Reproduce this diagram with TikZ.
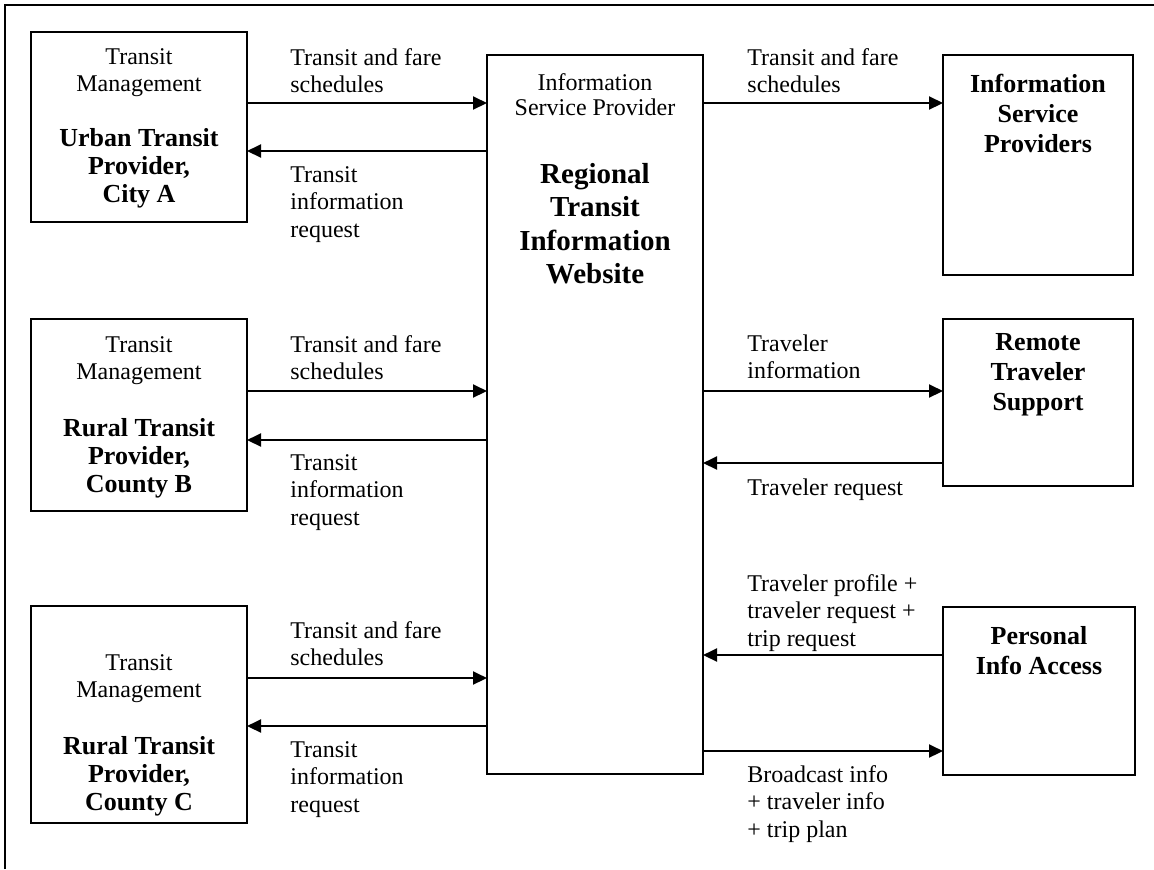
\documentclass[tikz,border=0pt]{standalone}
\usepackage{fontspec}
\setmainfont{Liberation Serif}
\usetikzlibrary{arrows.meta}
\tikzset{
  box/.style={draw, line width=1.4pt, inner sep=0pt, outer sep=0pt},
  arr/.style={line width=1pt, -{Triangle[length=7pt,width=6.5pt]}},
  lbl/.style={anchor=north west, inner sep=0pt, align=left, font=\fontsize{12}{13.8}\selectfont},
  ntxt/.style={anchor=north, inner sep=0pt, align=center, font=\fontsize{12}{13.6}\selectfont},
  btxt/.style={anchor=north, inner sep=0pt, align=center, font=\fontsize{13}{14}\selectfont\bfseries},
  rtxt/.style={anchor=north, inner sep=0pt, align=center, font=\fontsize{13}{15}\selectfont\bfseries},
  ctxt/.style={anchor=north, inner sep=0pt, align=center, font=\fontsize{14.5}{16.7}\selectfont\bfseries},
}
\begin{document}
\begin{tikzpicture}[x=0.5pt, y=-0.5pt]
\useasboundingbox (0,0) rectangle (1154,869);
% outer frame (top and left edges)
\draw[line width=1.2pt] (5,869) -- (5,5) -- (1154,5);

% boxes
\node[box, minimum width=108pt, minimum height=95pt] (A) at (139,127) {};
\node[box, minimum width=108pt, minimum height=96pt] (B) at (139,415) {};
\node[box, minimum width=108pt, minimum height=108.5pt] (C) at (139,714.5) {};
\node[box, minimum width=108pt, minimum height=359.5pt] (W) at (595,414.5) {};
\node[box, minimum width=95pt, minimum height=110pt] (ISP) at (1038,165) {};
\node[box, minimum width=95pt, minimum height=83.5pt] (RTS) at (1038,402.5) {};
\node[box, minimum width=96pt, minimum height=84pt] (PIA) at (1039,691) {};

% box texts
\node[ntxt] (At) at (139,48) {Transit\\Management};
\node[btxt] (Ab) at (139,128) {Urban Transit\\Provider,\\City A};
\node[ntxt] (Bt) at (139,336) {Transit\\Management};
\node[btxt] (Bb) at (139,418) {Rural Transit\\Provider,\\County B};
\node[ntxt] (Ct) at (139,654) {Transit\\Management};
\node[btxt] (Cb) at (139,736) {Rural Transit\\Provider,\\County C};
\node[anchor=north, inner sep=0pt, align=center, font=\fontsize{12}{12.5}\selectfont] (Wt) at (595,73) {Information\\Service Provider};
\node[ctxt] (Wb) at (595,163) {Regional\\Transit\\Information\\Website};
\node[rtxt] (ISPt) at (1038,74) {Information\\Service\\Providers};
\node[rtxt] (RTSt) at (1038,333) {Remote\\Traveler\\Support};
\node[rtxt] (PIAt) at (1039,626) {Personal\\Info Access};

% arrows left side
\draw[arr] (A.east|-0,103) -- (W.west|-0,103);
\draw[arr] (W.west|-0,151) -- (A.east|-0,151);
\draw[arr] (B.east|-0,391) -- (W.west|-0,391);
\draw[arr] (W.west|-0,440) -- (B.east|-0,440);
\draw[arr] (C.east|-0,678) -- (W.west|-0,678);
\draw[arr] (W.west|-0,726) -- (C.east|-0,726);
% arrows right side
\draw[arr] (W.east|-0,103) -- (ISP.west|-0,103);
\draw[arr] (W.east|-0,391) -- (RTS.west|-0,391);
\draw[arr] (RTS.west|-0,463) -- (W.east|-0,463);
\draw[arr] (PIA.west|-0,655) -- (W.east|-0,655);
\draw[arr] (W.east|-0,751) -- (PIA.west|-0,751);

% labels
\node[lbl] (L1a) at (290,48) {Transit and fare\\schedules};
\node[lbl] (L1b) at (290,166) {Transit\\information\\request};
\node[lbl] (L2a) at (290,335) {Transit and fare\\schedules};
\node[lbl] (L2b) at (290,454) {Transit\\information\\request};
\node[lbl] (L3a) at (290,621) {Transit and fare\\schedules};
\node[lbl] (L3b) at (290,741) {Transit\\information\\request};
\node[lbl] (R1) at (747,48) {Transit and fare\\schedules};
\node[lbl] (R2a) at (747,334) {Traveler\\information};
\node[lbl] (R2b) at (747,478) {Traveler request};
\node[lbl] (R3a) at (747,574) {Traveler profile +\\traveler request +\\trip request};
\node[lbl] (R3b) at (747,765) {Broadcast info\\+ traveler info\\+ trip plan};
\end{tikzpicture}
\end{document}
